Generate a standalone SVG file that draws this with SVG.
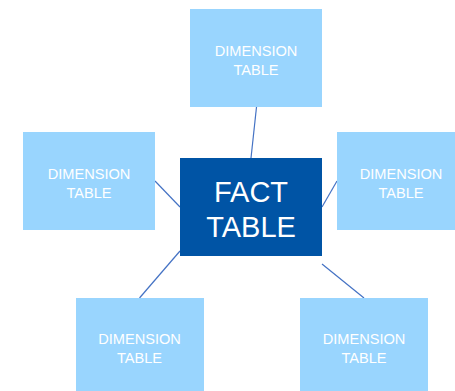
<svg xmlns="http://www.w3.org/2000/svg" width="455" height="391" viewBox="0 0 455 391">
<style>
.dim{fill:#99D5FE}
.fact{fill:#0054A5}
.dt{font-family:"Liberation Sans",Arial,sans-serif;font-size:14.6px;fill:#fff;text-anchor:middle}
.ft{font-family:"Liberation Sans",Arial,sans-serif;font-size:29px;fill:#fff;text-anchor:middle}
.c{stroke:#4472C4;stroke-width:1.2;fill:none}
</style>
<rect width="455" height="391" fill="#fff"/>
<g id="connectors">
<line class="c" x1="256.5" y1="107" x2="251" y2="158"/>
<line class="c" x1="155" y1="181" x2="180" y2="207"/>
<line class="c" x1="322" y1="207" x2="337" y2="181"/>
<line class="c" x1="180" y1="251" x2="139.5" y2="298"/>
<line class="c" x1="322" y1="264" x2="364" y2="298"/>
</g>
<g id="dim-top"><rect class="dim" x="190" y="9" width="132" height="98"/><text class="dt" x="256" y="56">DIMENSION</text><text class="dt" x="256" y="75">TABLE</text></g>
<g id="dim-left"><rect class="dim" x="23" y="132" width="132" height="98"/><text class="dt" x="89" y="179">DIMENSION</text><text class="dt" x="89" y="197.5">TABLE</text></g>
<g id="dim-right"><rect class="dim" x="337" y="132" width="132" height="98"/><text class="dt" x="401" y="179">DIMENSION</text><text class="dt" x="401" y="197.5">TABLE</text></g>
<g id="dim-bottom-left"><rect class="dim" x="76" y="298" width="128" height="95"/><text class="dt" x="139.5" y="344">DIMENSION</text><text class="dt" x="139.5" y="363">TABLE</text></g>
<g id="dim-bottom-right"><rect class="dim" x="300" y="298" width="128" height="95"/><text class="dt" x="364" y="344">DIMENSION</text><text class="dt" x="364" y="363">TABLE</text></g>
<g id="fact"><rect class="fact" x="180" y="158" width="142" height="98"/><text class="ft" x="251" y="202">FACT</text><text class="ft" x="251" y="237">TABLE</text></g>
</svg>
